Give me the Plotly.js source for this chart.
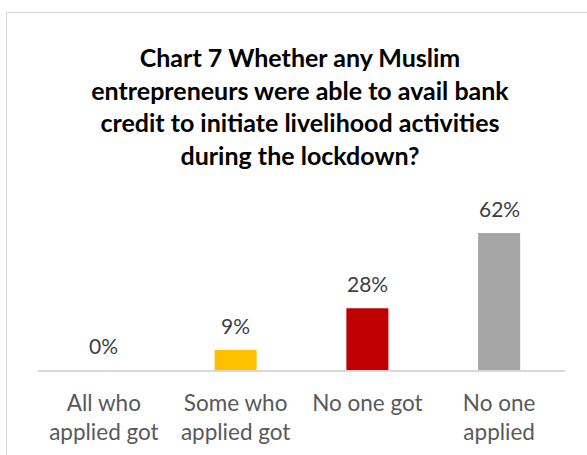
<!DOCTYPE html>
<html>
<head>
<meta charset="utf-8">
<script src="https://cdn.plot.ly/plotly-3.0.1.min.js"></script>
<style>
  html, body { margin: 0; padding: 0; background: #ffffff; }
  #wrap { position: relative; width: 587px; height: 455px; overflow: hidden; }
  #frame { position: absolute; left: 6px; top: 12px; width: 700px; height: 700px; border: 1.5px solid #d9d9d9; box-sizing: border-box; }
  #chart { position: absolute; left: 0; top: 0; width: 587px; height: 455px; }
</style>
</head>
<body>
<div id="wrap">
  <div id="frame"></div>
  <div id="chart"></div>
</div>
<script>
const categories = ["All who<br>applied got", "Some who<br>applied got", "No one got", "No one<br>applied"];
const values = [0, 9, 28, 62];
const valueLabels = ["0%", "9%", "28%", "62%"];
const barColors = ["#4472C4", "#FFC000", "#C00000", "#A5A5A5"];
const titleText = "Chart 7 Whether any Muslim<br>entrepreneurs were able to avail bank<br>credit to initiate livelihood activities<br>during the lockdown?";

const FONT = "Lato, 'Open Sans', sans-serif";

const trace = {
  type: "bar",
  x: categories,
  y: values,
  marker: { color: barColors },
  hoverinfo: "none"
};

const annotations = categories.map((c, i) => ({
  x: c,
  y: values[i],
  xref: "x",
  yref: "y",
  text: valueLabels[i],
  showarrow: false,
  yanchor: "bottom",
  yshift: 10,
  font: { family: FONT, size: 21, color: "#404040" }
}));

const layout = {
  width: 587,
  height: 455,
  margin: { l: 38, r: 22, t: 190, b: 85 },
  paper_bgcolor: "rgba(0,0,0,0)",
  plot_bgcolor: "rgba(0,0,0,0)",
  showlegend: false,
  bargap: 0.681,
  title: {
    text: "<b>" + titleText + "</b>",
    font: { family: FONT, size: 25, color: "#000000" },
    x: 300 / 587,
    xref: "container",
    xanchor: "center",
    y: 1 - 67 / 455,
    yref: "container",
    yanchor: "top"
  },
  xaxis: {
    type: "category",
    showline: true,
    linecolor: "#d9d9d9",
    linewidth: 1.5,
    ticks: "",
    ticklabelstandoff: 12,
    showgrid: false,
    tickfont: { family: FONT, size: 22.5, color: "#595959" },
    fixedrange: true
  },
  yaxis: {
    range: [0, 81.46],
    visible: false,
    showgrid: false,
    zeroline: false,
    fixedrange: true
  },
  annotations: annotations
};

Plotly.newPlot("chart", [trace], layout, { displayModeBar: false, staticPlot: true });
</script>
</body>
</html>
